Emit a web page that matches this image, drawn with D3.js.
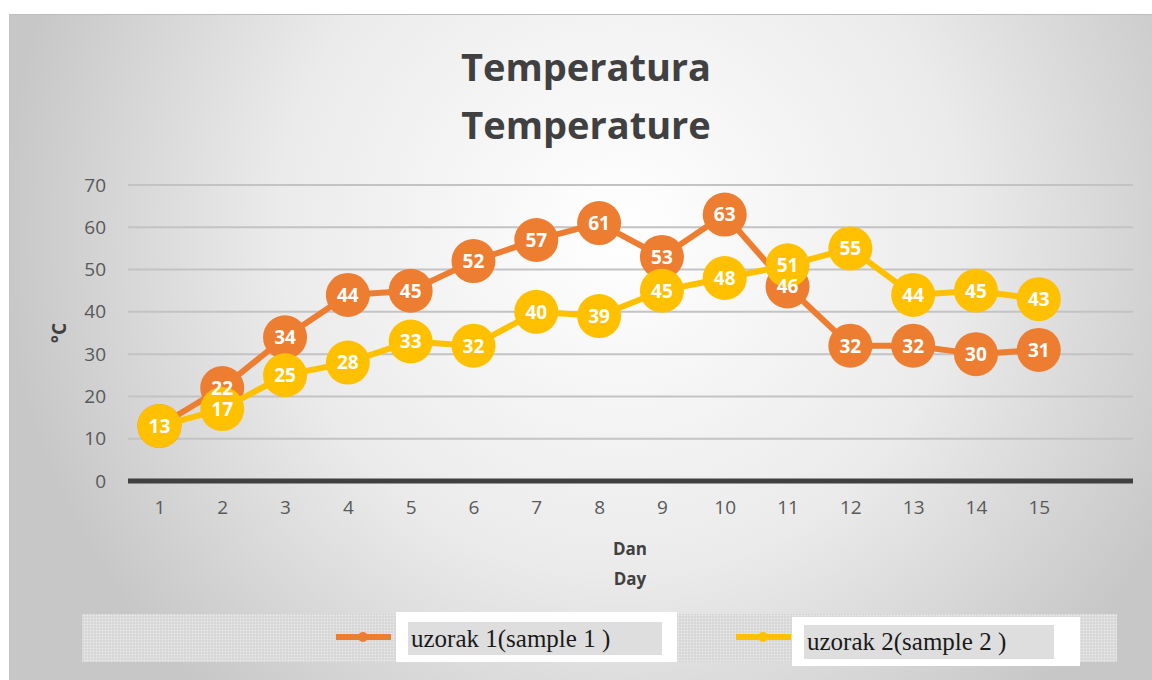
<!DOCTYPE html>
<html>
<head>
<meta charset="utf-8">
<script src="https://cdn.jsdelivr.net/npm/d3@7"></script>
<style>
body { margin: 0; background: #fff; }
svg { display: block; }
</style>
</head>
<body>
<svg></svg>
<script>
// chart data
var days = [1,2,3,4,5,6,7,8,9,10,11,12,13,14,15]
var sample1 = [13,22,34,44,45,52,57,61,53,63,46,32,32,30,31]
var sample2 = [13,17,25,28,33,32,40,39,45,48,51,55,44,45,43]
var yTicks = [0,10,20,30,40,50,60,70]
var seriesNames = ["uzorak 1(sample 1 )", "uzorak 2(sample 2 )"]
var seriesColors = ["#ED7D31", "#FFC000"]

var screen = {width: 1152, height: 680}
var plot = {left: 128, right: 1133, top: 185, bottom: 481}

var svg = d3.select("svg")
    .attr("width", screen.width)
    .attr("height", screen.height)

// background
var defs = svg.append("defs")
var grad = defs.append("radialGradient")
    .attr("id", "bg")
    .attr("gradientUnits", "userSpaceOnUse")
    .attr("cx", 620).attr("cy", 230).attr("r", 620)
grad.append("stop").attr("offset", "0%").attr("stop-color", "#ffffff")
grad.append("stop").attr("offset", "55%").attr("stop-color", "#ebebeb")
grad.append("stop").attr("offset", "100%").attr("stop-color", "#c7c7c7")

var pat = defs.append("pattern")
    .attr("id", "dots")
    .attr("width", 3).attr("height", 3)
    .attr("patternUnits", "userSpaceOnUse")
pat.append("rect").attr("width", 3).attr("height", 3).attr("fill", "#dcdcdc")
pat.append("rect").attr("width", 1).attr("height", 1).attr("fill", "#eeeeee")
pat.append("rect").attr("x", 1.5).attr("y", 1.5).attr("width", 1).attr("height", 1).attr("fill", "#cfcfcf")

svg.append("rect")
    .attr("x", 9).attr("y", 14)
    .attr("width", screen.width - 9).attr("height", screen.height - 14)
    .attr("fill", "url(#bg)")
svg.append("line")
    .attr("x1", 9).attr("x2", screen.width).attr("y1", 14.5).attr("y2", 14.5)
    .attr("stroke", "#bdbdbd").attr("stroke-width", 1)
svg.append("line")
    .attr("x1", 9.5).attr("x2", 9.5).attr("y1", 14).attr("y2", screen.height)
    .attr("stroke", "#c4c4c4").attr("stroke-width", 1)

// scales
var xScale = d3.scaleLinear()
    .domain([0.5, 16.5])
    .range([plot.left, plot.right])
var yScale = d3.scaleLinear()
    .domain([0, 70])
    .range([plot.bottom, plot.top])

// title
var title = svg.append("text")
    .attr("text-anchor", "middle")
    .attr("font-family", "Open Sans, sans-serif")
    .attr("font-weight", "bold")
    .attr("font-size", 38)
    .attr("fill", "#404040")
title.append("tspan").attr("x", 586).attr("y", 81).text("Temperatura")
title.append("tspan").attr("x", 586).attr("y", 139).text("Temperature")

// gridlines
svg.append("g")
    .selectAll("line")
    .data(yTicks.filter(function(d){return d > 0}))
    .enter()
    .append("line")
    .attr("x1", plot.left).attr("x2", plot.right)
    .attr("y1", function(d){return yScale(d)})
    .attr("y2", function(d){return yScale(d)})
    .attr("stroke", "#c3c3c3")
    .attr("stroke-width", 2)

// y axis
var yAxis = d3.axisLeft(yScale).tickValues(yTicks).tickSize(0).tickPadding(0)
var yg = svg.append("g")
    .attr("transform", "translate(106,0)")
    .call(yAxis)
yg.select(".domain").remove()
yg.selectAll("text")
    .attr("font-family", "Open Sans, sans-serif")
    .attr("font-size", 19)
    .attr("fill", "#595959")

// x axis
var xAxis = d3.axisBottom(xScale).tickValues(days).tickSize(0).tickPadding(0)
var xg = svg.append("g")
    .attr("transform", "translate(0," + (plot.bottom + 19) + ")")
    .call(xAxis)
xg.select(".domain").remove()
xg.selectAll("text")
    .attr("font-family", "Open Sans, sans-serif")
    .attr("font-size", 19)
    .attr("fill", "#595959")

svg.append("line")
    .attr("x1", plot.left).attr("x2", plot.right)
    .attr("y1", yScale(0)).attr("y2", yScale(0))
    .attr("stroke", "#404040")
    .attr("stroke-width", 5)

// axis titles
svg.append("text")
    .attr("transform", "translate(66," + 333 + ") rotate(-90)")
    .attr("text-anchor", "middle")
    .attr("font-family", "Open Sans, sans-serif")
    .attr("font-weight", "bold")
    .attr("font-size", 19)
    .attr("fill", "#404040")
    .text("°C")

var xt = svg.append("text")
    .attr("text-anchor", "middle")
    .attr("font-family", "Open Sans, sans-serif")
    .attr("font-weight", "bold")
    .attr("font-size", 17)
    .attr("fill", "#404040")
xt.append("tspan").attr("x", 630).attr("y", 555).text("Dan")
xt.append("tspan").attr("x", 630).attr("y", 585).text("Day")

// series: lines and markers first, value labels on top of everything
var lineGenerator = d3.line()
    .x(function(v, i){return xScale(days[i])})
    .y(function(v){return yScale(v)})

var allSeries = [sample1, sample2]
var markLayer = svg.append("g")
var labelLayer = svg.append("g")

allSeries.forEach(function(values, s)
{
    var g = markLayer.append("g")
    g.append("path")
        .attr("d", lineGenerator(values))
        .attr("fill", "none")
        .attr("stroke", seriesColors[s])
        .attr("stroke-width", 6)
        .attr("stroke-linejoin", "round")
    g.selectAll("circle")
        .data(values)
        .enter()
        .append("circle")
        .attr("cx", function(v, i){return xScale(days[i])})
        .attr("cy", function(v){return yScale(v)})
        .attr("r", 22)
        .attr("fill", seriesColors[s])
})

allSeries.forEach(function(values, s)
{
    labelLayer.append("g")
        .selectAll("text")
        .data(values)
        .enter()
        .append("text")
        .attr("x", function(v, i){return xScale(days[i])})
        .attr("y", function(v){return yScale(v)})
        .attr("text-anchor", "middle")
        .attr("dy", "0.36em")
        .attr("font-family", "Open Sans, sans-serif")
        .attr("font-weight", "bold")
        .attr("font-size", 19)
        .attr("fill", "#ffffff")
        .text(function(v, i){return (s == 0 && i == 0) ? "" : v})
})

// legend
svg.append("rect")
    .attr("x", 82).attr("y", 614)
    .attr("width", 1035).attr("height", 48)
    .attr("fill", "url(#dots)")

var legendItems = [
    {x: 336, box: [396, 612, 281, 50], inner: [408, 622, 254, 33]},
    {x: 736, box: [792, 617, 288, 49], inner: [804, 625, 250, 34]}
]
legendItems.forEach(function(item, i)
{
    svg.append("line")
        .attr("x1", item.x).attr("x2", item.x + 55)
        .attr("y1", 637).attr("y2", 637)
        .attr("stroke", seriesColors[i])
        .attr("stroke-width", 6)
    svg.append("circle")
        .attr("cx", item.x + 27).attr("cy", 637).attr("r", 5)
        .attr("fill", seriesColors[i])
    svg.append("rect")
        .attr("x", item.box[0]).attr("y", item.box[1])
        .attr("width", item.box[2]).attr("height", item.box[3])
        .attr("fill", "#ffffff")
    svg.append("rect")
        .attr("x", item.inner[0]).attr("y", item.inner[1])
        .attr("width", item.inner[2]).attr("height", item.inner[3])
        .attr("fill", "#dedede")
    svg.append("text")
        .attr("x", item.inner[0] + 3)
        .attr("y", item.inner[1] + 25)
        .attr("font-family", "Liberation Serif, serif")
        .attr("font-size", 25)
        .attr("fill", "#1a1a1a")
        .text(seriesNames[i])
})
</script>
</body>
</html>
